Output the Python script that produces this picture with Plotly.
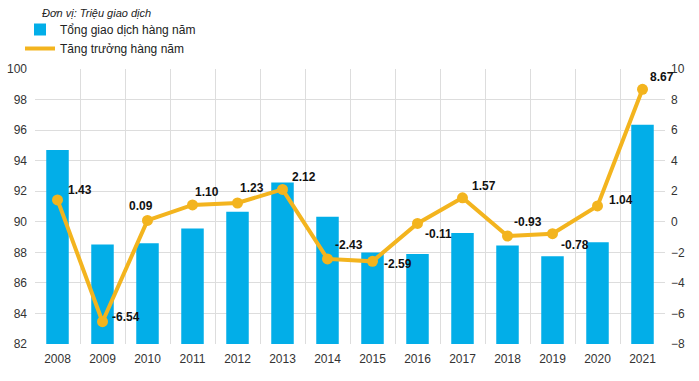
import plotly.graph_objects as go

years = ["2008", "2009", "2010", "2011", "2012", "2013", "2014",
         "2015", "2016", "2017", "2018", "2019", "2020", "2021"]
total_tx = [94.70, 88.51, 88.59, 89.56, 90.65, 92.57, 90.33,
            87.99, 87.89, 89.27, 88.44, 87.75, 88.66, 96.35]
growth = [1.43, -6.54, 0.09, 1.10, 1.23, 2.12, -2.43,
          -2.59, -0.11, 1.57, -0.93, -0.78, 1.04, 8.67]
growth_labels = [f"{v:.2f}" for v in growth]

bar_name = "Tổng giao dịch hàng năm"
line_name = "Tăng trưởng hàng năm"
unit_note = "Đơn vị: Triệu giao dịch"

BLUE = "#02AEE8"
GOLD = "#F3B41E"

# label offsets from each point, in pixels (style only)
label_dx = [22, 23, -7, 14, 14, 21, 21, 25, 21, 21, 20, 22, 23, 19]
label_dy = [10, 5, 14, 13, 15, 12, 14, -3, -11, 12, 14, -11, 6, 12]

W, H = 699, 381
ML, MR, MT, MB = 35, 34, 69, 37
PH = H - MT - MB

fig = go.Figure()
fig.add_trace(go.Bar(
    x=years, y=total_tx, name=bar_name, marker_color=BLUE,
    marker_line_width=0, yaxis="y", showlegend=True,
))
fig.add_trace(go.Scatter(
    x=years, y=growth, yaxis="y2", mode="lines+markers",
    line=dict(color=GOLD, width=4), marker=dict(color=GOLD, size=11),
    showlegend=False, cliponaxis=False,
))
fig.add_trace(go.Scatter(
    x=[None], y=[None], yaxis="y2", mode="lines", name=line_name,
    line=dict(color=GOLD, width=4), showlegend=True,
))

annotations = [dict(text=unit_note, xref="paper", yref="paper",
                    x=5 / (W - ML - MR), y=(H - MB - 13) / PH,
                    xanchor="left", yanchor="middle", showarrow=False,
                    font=dict(size=11, color="#222222", style="italic"))]
for i, (g, lab, dx, dy) in enumerate(zip(growth, growth_labels, label_dx, label_dy)):
    annotations.append(dict(
        x=i, y=g, xref="x", yref="y2", text=f"<b>{lab}</b>", showarrow=False,
        xshift=dx, yshift=dy, xanchor="center", yanchor="middle",
        font=dict(family="Liberation Sans, Arial", size=12, color="#111111"),
    ))

fig.update_layout(
    width=W, height=H,
    margin=dict(l=ML, r=MR, t=MT, b=MB, autoexpand=False),
    paper_bgcolor="white", plot_bgcolor="white",
    font=dict(family="Liberation Sans, Arial", size=12, color="#333333"),
    bargap=0.5,
    showlegend=True,
    legend=dict(xref="container", yref="container",
                x=20 / W, y=1 - 15 / H, xanchor="left", yanchor="top",
                bgcolor="rgba(0,0,0,0)", tracegroupgap=0,
                font=dict(size=12, color="#222222"), itemwidth=30,
                traceorder="normal"),
    xaxis=dict(type="category", range=[-0.5, len(years) - 0.5],
               tickson="boundaries", showgrid=True,
               gridcolor="#DDDDDD", gridwidth=1, ticks="", showline=False,
               tickfont=dict(size=12, color="#333333"), zeroline=False,
               automargin=False, ticklabelstandoff=6),
    yaxis=dict(range=[82, 100], dtick=2, showgrid=True, gridcolor="#DDDDDD",
               zeroline=False, ticks="", tickfont=dict(size=12, color="#333333"),
               showline=False, automargin=False, ticklabelstandoff=7),
    yaxis2=dict(range=[-8, 10], dtick=2, overlaying="y", side="right",
                showgrid=False, zeroline=False, ticks="", automargin=False,
                tickfont=dict(size=12, color="#333333"), ticklabelstandoff=5),
    annotations=annotations,
)

fig.write_html("out.html", config={"displayModeBar": False},
               post_script="document.body.style.margin='0';document.body.style.overflow='hidden';")
